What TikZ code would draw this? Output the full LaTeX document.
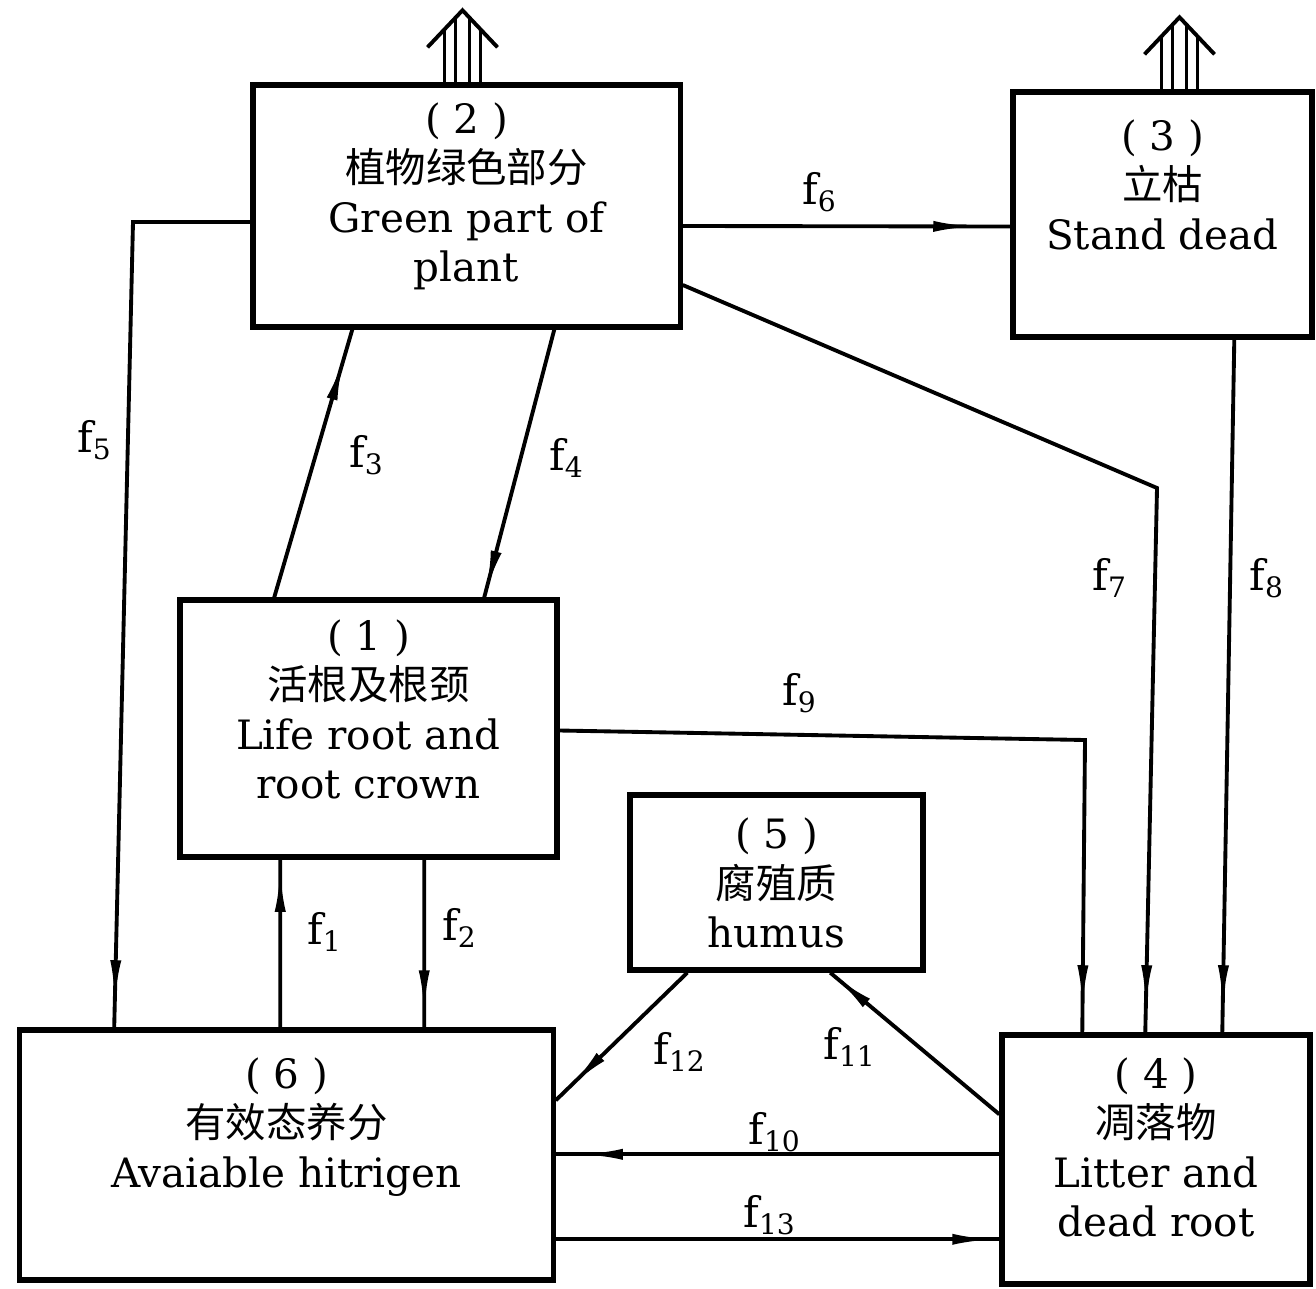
\documentclass[tikz,border=0pt]{standalone}
\usepackage{fontspec}
\setmainfont{DejaVu Serif}
\newfontfamily\cjk{Noto Sans CJK SC}
\usetikzlibrary{arrows.meta,positioning,calc,decorations.markings}
\tikzset{
  blk/.style    ={draw, line width=1.5pt, inner sep=0pt},
  blktxt/.style ={align=center, inner sep=0pt,
                  font=\fontsize{11.5}{14}\selectfont},
  flow/.style   ={line width=1.1pt, postaction={decorate},
                  decoration={markings, mark=at position #1 with
                  {\arrow{Latex[length=4.2mm,width=1.1mm]}}}},
  flow/.default =-0.15cm,
  flbl/.style   ={font=\fontsize{12}{14}\selectfont, inner sep=1pt},
  outln/.style  ={line width=1.1pt},
}

\begin{document}
\begin{tikzpicture}[x=0.01cm, y=-0.01cm]
\useasboundingbox (0,0) rectangle (1316,1288);
% compartments
\node[blk, minimum width=4.27cm, minimum height=2.42cm] (b2) at (466.5,206) {};
\node[blk, minimum width=2.99cm, minimum height=2.45cm] (b3) at (1162.5,214.5) {};
\node[blk, minimum width=3.77cm, minimum height=2.57cm] (b1) at (368.5,728.5) {};
\node[blk, minimum width=2.93cm, minimum height=1.75cm] (b5) at (776.5,882.5) {};
\node[blk, minimum width=5.33cm, minimum height=2.50cm] (b6) at (286.5,1155) {};
\node[blk, minimum width=3.08cm, minimum height=2.49cm] (b4) at (1156,1159.5) {};
\node[blktxt, below=0.2cm of b2.north] (t2)
  {( 2 )\\{\cjk 植物绿色部分}\\Green part of\\plant};
\node[blktxt, below=0.3cm of b3.north] (t3)
  {( 3 )\\{\cjk 立枯}\\Stand dead};
\node[blktxt, below=0.22cm of b1.north] (t1)
  {( 1 )\\{\cjk 活根及根颈}\\Life root and\\root crown};
\node[blktxt, below=0.25cm of b5.north] (t5)
  {( 5 )\\{\cjk 腐殖质}\\humus};
\node[blktxt, below=0.3cm of b6.north] (t6)
  {( 6 )\\{\cjk 有效态养分}\\Avaiable hitrigen};
\node[blktxt, below=0.25cm of b4.north] (t4)
  {( 4 )\\{\cjk 凋落物}\\Litter and\\dead root};
% outputs
\foreach \b/\dx in {b2/-4, b3/17}{
  \draw[outln] ($(\b.north)+(\dx-18,0)$) -- ++(0,-53);
  \draw[outln] ($(\b.north)+(\dx-7,0)$) -- ++(0,-65);
  \draw[outln] ($(\b.north)+(\dx+7,0)$) -- ++(0,-65);
  \draw[outln] ($(\b.north)+(\dx+18,0)$) -- ++(0,-53);
  \draw[outln] ($(\b.north)+(\dx-35,-35)$) -- ($(\b.north)+(\dx,-72)$)
    -- ($(\b.north)+(\dx+35,-35)$);
}
% flows
\coordinate (c5) at (133,222);
\coordinate (c7) at (1157,488);
\coordinate (c9) at (1085,740);
\draw[flow=-0.1cm] ($(b6.north west)+(263,0)$) -- ($(b1.south west)+(103,0)$);
\draw[flow] ($(b1.south west)+(247,0)$) -- ($(b6.north west)+(407,0)$);
\draw[flow=-0.3cm] ($(b1.north west)+(97,0)$) -- ($(b2.south west)+(102,0)$);
\draw[flow=-0.05cm] ($(b2.south west)+(304,0)$) -- ($(b1.north west)+(307,0)$);
\draw[flow=-0.25cm] ($(b2.west)+(0,16)$) -- (c5) -- ($(b6.north west)+(97,0)$);
\draw[flow=-0.35cm] ($(b2.east)+(0,20)$) -- ($(b3.west)+(0,12)$);
\draw[flow=-0.25cm] ($(b2.east)+(0,79)$) -- (c7) -- ($(b4.north west)+(146,0)$);
\draw[flow=-0.25cm] ($(b3.south west)+(224,0)$) -- ($(b4.north west)+(223,0)$);
\draw[flow=-0.25cm] ($(b1.east)+(0,2)$) -- (c9) -- ($(b4.north west)+(83,0)$);
\draw[flow=-0.25cm] ($(b4.north west)+(0,122)$) -- ($(b6.north east)+(0,127)$);
\draw[flow=-0.05cm] ($(b4.north west)+(0,82)$) -- ($(b5.south west)+(203,0)$);
\draw[flow=-0.2cm] ($(b5.south west)+(60,0)$) -- ($(b6.north east)+(0,73)$);
\draw[flow=-0.05cm] ($(b6.north east)+(0,212)$) -- ($(b4.north west)+(0,207)$);
% flow labels
\node[flbl] (f1) at (325,932) {f\textsubscript{1}};
\node[flbl] (f2) at (460,928) {f\textsubscript{2}};
\node[flbl] (f3) at (367,455) {f\textsubscript{3}};
\node[flbl] (f4) at (567,458) {f\textsubscript{4}};
\node[flbl] (f5) at (95,440) {f\textsubscript{5}};
\node[flbl] (f6) at (820,192) {f\textsubscript{6}};
\node[flbl] (f7) at (1110,578) {f\textsubscript{7}};
\node[flbl] (f8) at (1267,578) {f\textsubscript{8}};
\node[flbl] (f9) at (800,693) {f\textsubscript{9}};
\node[flbl] (f10) at (775,1132) {f\textsubscript{10}};
\node[flbl] (f11) at (850,1047) {f\textsubscript{11}};
\node[flbl] (f12) at (680,1052) {f\textsubscript{12}};
\node[flbl] (f13) at (770,1215) {f\textsubscript{13}};
\end{tikzpicture}
\end{document}
